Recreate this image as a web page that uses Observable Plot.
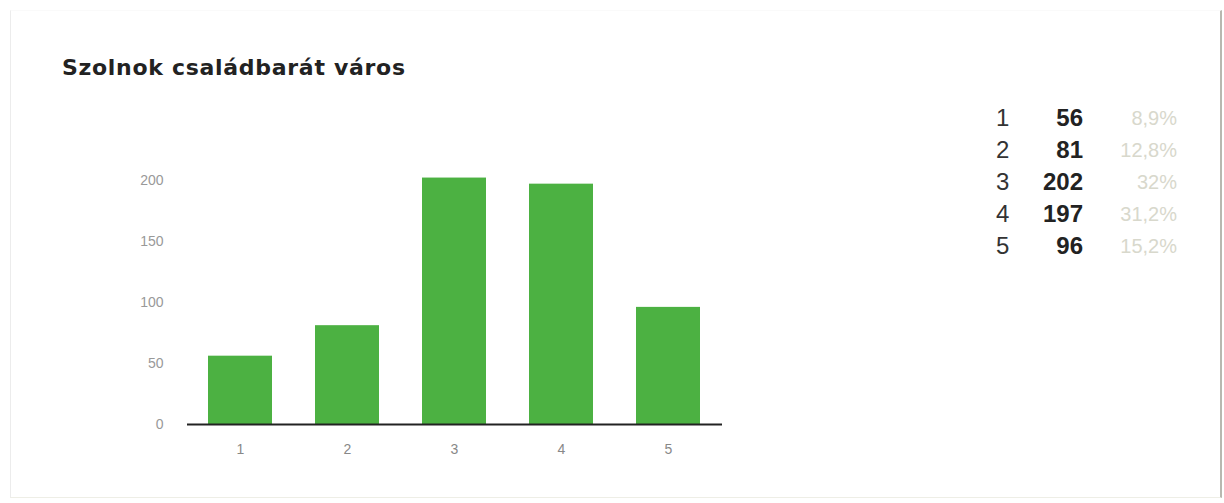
<!DOCTYPE html>
<html>
<head>
<meta charset="utf-8">
<script src="https://cdn.jsdelivr.net/npm/d3@7"></script>
<script src="https://cdn.jsdelivr.net/npm/@observablehq/plot@0.6"></script>
<style>
  html, body { margin: 0; padding: 0; background: #ffffff; }
  body { width: 1224px; height: 503px; position: relative; overflow: hidden; font-family: "Liberation Sans", Arial, sans-serif; }
  #frame { position: absolute; left: 10px; top: 10px; width: 1209px; height: 486px;
           border-left: 1px solid #ececec; border-right: 2px solid #b8b8b0; border-bottom: 1px solid #eeeee6; border-top: 1px solid #fafafa; }
  #title { position: absolute; left: 62px; top: 55px; font-family: "DejaVu Sans", sans-serif; font-weight: bold; font-size: 22px; color: #222; white-space: nowrap; letter-spacing: 0.7px; }
  #chart { position: absolute; left: 0; top: 0; }
  #table { position: absolute; left: 985px; top: 102px; border-collapse: collapse;
           font-family: "Liberation Sans Narrow", "Arial Narrow", "Liberation Sans", sans-serif; font-size: 24px; }
  #table td { padding: 0; height: 32px; line-height: 32px; }
  #table td.c { width: 28px; text-align: left; padding-left: 11px; color: #333; }
  #table td.n { width: 59px; text-align: right; font-weight: bold; color: #222; }
  #table td.p { width: 94px; text-align: right; color: #d8d8cc; font-size: 20px; }
</style>
</head>
<body>
<div id="frame"></div>
<div id="chart"></div>
<div id="title">Szolnok családbarát város</div>
<table id="table"></table>
<script>
const categories = ["1", "2", "3", "4", "5"];
const counts = [56, 81, 202, 197, 96];
const percentLabels = ["8,9%", "12,8%", "32%", "31,2%", "15,2%"];
const yTicks = [0, 50, 100, 150, 200];

const data = categories.map((c, i) => ({category: c, count: counts[i]}));

const chart = Plot.plot({
  width: 1224,
  height: 503,
  marginLeft: 187,
  marginRight: 502,
  marginTop: 180,
  marginBottom: 79,
  style: { background: "transparent", fontFamily: "Liberation Sans, Arial, sans-serif", fontSize: "13px" },
  x: { domain: categories, paddingInner: 0.4, paddingOuter: 0.2, label: null },
  y: { domain: [0, 200], ticks: yTicks, label: null },
  marks: [
    Plot.barY(data, { x: "category", y: "count", fill: "#4cb142" }),
    Plot.ruleY([0], { stroke: "#222", strokeWidth: 2 }),
    Plot.axisY({ ticks: yTicks, tickSize: 0, tickPadding: 24, fill: "#999", fontSize: 14, label: null }),
    Plot.axisX({ tickSize: 0, tickPadding: 20, fill: "#888", fontSize: 14, label: null })
  ]
});
document.getElementById("chart").appendChild(chart);

const table = d3.select("#table");
const rows = table.selectAll("tr").data(categories).join("tr");
rows.append("td").attr("class", "c").text(d => d);
rows.append("td").attr("class", "n").text((d, i) => counts[i]);
rows.append("td").attr("class", "p").text((d, i) => percentLabels[i]);
</script>
</body>
</html>
